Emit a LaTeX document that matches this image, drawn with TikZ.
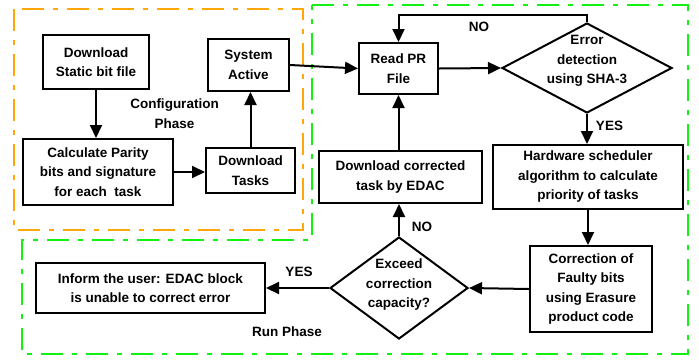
\documentclass[tikz,border=0pt]{standalone}
\usepackage{fontspec}
\setmainfont{Liberation Sans}
\usetikzlibrary{arrows.meta,shapes.geometric}
\definecolor{phaseorange}{RGB}{255,166,10}
\definecolor{phasegreen}{RGB}{20,240,20}

\begin{document}
\begin{tikzpicture}[x=1pt,y=-1pt,
  every node/.style={font=\bfseries\fontsize{13.5}{19.5}\selectfont},
  box/.style={draw,line width=2pt,align=center,inner sep=0pt},
  decision/.style={draw,diamond,line width=2pt,inner sep=0pt},
  txt/.style={align=center,inner sep=0pt},
  flow/.style={line width=2pt,-{Triangle[length=13pt,width=12pt]}},
  phase/.style={line width=2pt,dash pattern={on 22pt off 9pt on 5pt off 9pt}}]
\useasboundingbox (0,0) rectangle (699,360);

% Phase borders
\draw[phase,phaseorange] (14,9) rectangle (303,230);
\draw[phase,phasegreen] (312,5) -- (688,5) -- (688,354) -- (22,354) -- (22,240) -- (312,240) -- cycle;

% Configuration phase blocks
\node[box,minimum width=106pt,minimum height=54pt] (dsb) at (96,62) {Download\\Static bit file};
\node[box,minimum width=150pt,minimum height=66pt] (cpb) at (98,172) {Calculate Parity\\bits and signature\\for each~ task};
\node[box,minimum width=89pt,minimum height=45pt] (dt) at (250.5,170.5) {Download\\Tasks};
\node[box,minimum width=81pt,minimum height=52pt] (sa) at (248.5,65) {System\\Active};

% Run phase blocks
\node[box,minimum width=79pt,minimum height=51pt] (rpr) at (398.5,68.5) {Read PR\\File};
\node[decision,minimum width=170pt,minimum height=90pt] (ed) at (587,68) {};
\node[txt] (edtext) at (587,61) {Error\\detection\\using SHA-3};
\node[box,minimum width=190pt,minimum height=64pt] (hw) at (588,177) {Hardware scheduler\\algorithm to calculate\\priority of tasks};
\node[box,minimum width=163pt,minimum height=52pt] (dct) at (400.5,177) {Download corrected\\task by EDAC};
\node[box,minimum width=122pt,minimum height=86pt] (cfb) at (591,289) {Correction of\\Faulty bits\\using Erasure\\product code};
\node[decision,minimum width=138pt,minimum height=102pt] (ecc) at (399,288) {};
\node[txt] (ecctext) at (399,285) {Exceed\\correction\\capacity?};
\node[box,minimum width=229pt,minimum height=50pt] (inf) at (150.5,288) {Inform the user: EDAC block\\is unable to correct error};

% Text Node
\node[txt] (cfgphase) at (174.5,113.5) {Configuration\\Phase};
\node[txt] (runphase) at (287,332) {Run Phase};
\node[txt] (no1) at (479,27) {NO};
\node[txt] (yes1) at (609.5,126) {YES};
\node[txt] (no2) at (422,227) {NO};
\node[txt] (yes2) at (299,272) {YES};

% Connectors
\draw[flow] (dsb.south) -- (dsb.south |- cpb.north);
\draw[flow] (cpb.east) -- (cpb.east -| dt.west);
\draw[flow] (dt.north) -- (dt.north |- sa.south);
\draw[flow] (sa.east) -- (rpr.west);
\draw[flow] (rpr.east) -- (ed.west);
\draw[flow] (ed.south) -- (ed.south |- hw.north);
\draw[flow] (ed.north) -- ++(0,-7) -| (rpr.north);
\draw[flow] (hw.south) -- (hw.south |- cfb.north);
\draw[flow] (cfb.west) -- (ecc.east);
\draw[flow] (ecc.west) -- (inf.east);
\draw[flow] (ecc.north) -- (ecc.north |- dct.south);
\draw[flow] (rpr.south |- dct.north) -- (rpr.south);

\end{tikzpicture}
\end{document}
